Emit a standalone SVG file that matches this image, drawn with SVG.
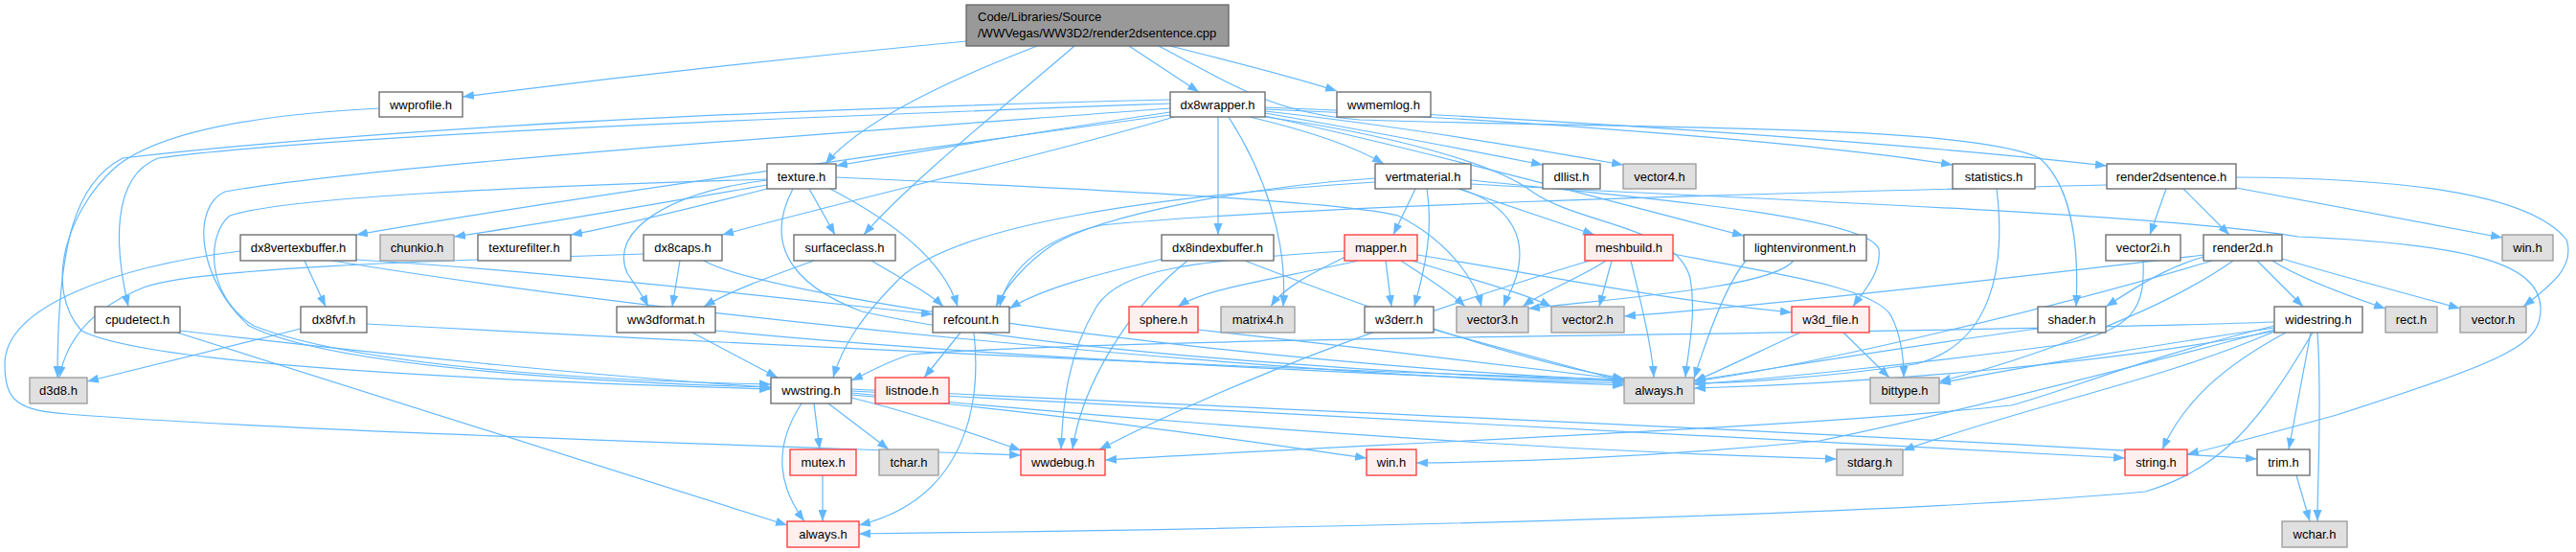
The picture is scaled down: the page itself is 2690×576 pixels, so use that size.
<svg xmlns="http://www.w3.org/2000/svg" width="2690" height="576" viewBox="0 0 2690 576">
<defs>
<marker id="a" markerWidth="12" markerHeight="9" refX="12" refY="4.5" orient="auto" markerUnits="userSpaceOnUse"><path d="M0,0 L12,4.5 L0,9 z" fill="#63b8ff"/></marker>
<style>
.e path{fill:none;stroke:#63b8ff;stroke-width:1.2;marker-end:url(#a)}
rect{stroke-width:1.3}
.w rect{fill:#fff;stroke:#666}
.g rect{fill:#e0e0e0;stroke:#999}
.r rect{fill:#fff0f0;stroke:#ff3333}
.rt rect{fill:#999;stroke:#666}
text{font-family:"Liberation Sans",Arial,sans-serif;font-size:13px;fill:#000}
.c{text-anchor:middle}
</style>
</defs>
<rect width="2690" height="576" fill="#fff"/>
<g class="e" id="edges">
<path d="M1009,43 C850,58 650,80 483,101"/>
<path d="M1083,48 C1000,80 900,125 862,171"/>
<path d="M1122,48 C1050,110 950,190 902,245"/>
<path d="M1179,48 L1252,96"/>
<path d="M1222,48 C1290,65 1350,80 1396,95"/>
<path d="M1210,48 C1290,90 1330,118 1420,125 C1700,135 2050,128 2130,165 C2170,200 2170,280 2168,320"/>
<path d="M1222,117 C1100,135 950,160 873,173"/>
<path d="M1305,122 C1360,135 1410,150 1445,171"/>
<path d="M1321,118 C1420,135 1540,158 1611,172"/>
<path d="M1321,116 C1450,130 1600,155 1695,172"/>
<path d="M1321,114 C1600,125 1900,150 2039,172"/>
<path d="M1321,112 C1600,122 2000,150 2200,173"/>
<path d="M1222,120 C1000,150 600,205 372,245"/>
<path d="M1226,122 C1100,160 900,205 754,245"/>
<path d="M1272,122 L1272,245"/>
<path d="M1283,122 C1320,180 1345,250 1340,320"/>
<path d="M1222,108 C900,120 350,140 165,165 C115,185 120,260 134,320"/>
<path d="M1222,104 C900,112 450,128 128,165 C80,190 60,250 60,394"/>
<path d="M1321,121 C1500,160 1700,215 1821,246"/>
<path d="M1321,122 C1450,140 1560,170 1600,200 C1650,235 1750,235 1765,290 C1772,330 1762,370 1760,394"/>
<path d="M1222,113 C1000,130 400,170 235,200 C200,215 205,290 260,340 C350,385 650,400 805,404"/>
<path d="M396,113 C220,122 150,150 120,175 C70,220 45,300 85,345 C160,385 600,400 805,406"/>
<path d="M801,193 C700,210 560,235 474,247"/>
<path d="M801,197 C730,215 650,235 596,245"/>
<path d="M845,197 L872,245"/>
<path d="M801,188 C700,200 635,240 655,285 C665,300 672,310 677,320"/>
<path d="M867,197 C930,230 985,270 1000,320"/>
<path d="M801,187 C550,195 300,205 240,225 C215,245 215,310 265,340 C380,385 650,398 805,401"/>
<path d="M828,197 C800,250 820,295 900,325 C1100,370 1500,392 1696,398"/>
<path d="M873,185 C1150,198 1400,210 1460,225 C1510,250 1540,290 1547,320"/>
<path d="M850,272 C800,290 760,305 735,320"/>
<path d="M910,272 C940,290 970,305 985,320"/>
<path d="M710,272 L702,320"/>
<path d="M672,265 C450,272 200,280 150,300 C100,320 70,350 62,394"/>
<path d="M735,272 C800,310 1300,380 1696,397"/>
<path d="M318,272 L340,320"/>
<path d="M372,271 C600,285 850,315 974,328"/>
<path d="M347,272 C700,330 1300,388 1696,402"/>
<path d="M251,262 C120,278 5,320 5,380 C5,420 20,428 70,432 C300,450 800,465 1066,475"/>
<path d="M1215,270 C1150,285 1090,300 1054,322"/>
<path d="M1240,272 C1180,320 1130,400 1120,469"/>
<path d="M1300,272 C1450,330 1600,380 1696,395"/>
<path d="M1478,197 L1455,245"/>
<path d="M1523,197 L1665,245"/>
<path d="M1490,197 C1497,240 1488,280 1477,320"/>
<path d="M1436,186 C1300,195 1150,225 1100,255 C1070,275 1050,300 1040,320"/>
<path d="M1436,190 C1200,205 1000,235 940,290 C900,330 880,360 870,394"/>
<path d="M1525,197 C1580,215 1595,250 1583,290 C1578,305 1573,312 1570,320"/>
<path d="M1536,188 C1700,205 1950,225 1962,260 C1965,285 1945,305 1935,320"/>
<path d="M1536,192 C1800,207 2250,222 2400,247 C2580,255 2650,275 2653,320 C2655,360 2620,375 2440,433 C2360,455 2310,468 2284,474"/>
<path d="M1418,272 C1340,290 1260,300 1230,320"/>
<path d="M1405,268 C1370,285 1340,300 1327,320"/>
<path d="M1447,272 L1453,320"/>
<path d="M1463,272 C1490,290 1515,305 1530,320"/>
<path d="M1475,272 C1530,290 1590,305 1620,320"/>
<path d="M1480,266 C1600,285 1750,315 1871,326"/>
<path d="M1404,262 C1250,272 1170,280 1145,320 C1115,370 1110,420 1108,469"/>
<path d="M1677,272 C1650,290 1610,305 1590,320"/>
<path d="M1683,272 L1670,320"/>
<path d="M1703,272 C1712,310 1725,360 1727,394"/>
<path d="M1747,265 C1850,285 1960,300 1975,330 C1985,350 1988,370 1988,394"/>
<path d="M1660,272 C1500,320 1300,390 1148,469"/>
<path d="M1873,272 C1850,300 1700,310 1596,322"/>
<path d="M1823,272 C1800,300 1780,360 1769,395"/>
<path d="M1251,344 C1400,360 1600,385 1696,396"/>
<path d="M1497,344 L1696,398"/>
<path d="M1003,347 L965,394"/>
<path d="M1017,347 C1025,420 1010,520 897,548"/>
<path d="M723,347 L812,394"/>
<path d="M747,345 C1000,370 1400,390 1696,400"/>
<path d="M188,345 C400,370 650,395 805,404"/>
<path d="M185,347 L822,548"/>
<path d="M314,343 L91,398"/>
<path d="M383,338 C800,360 1300,385 1696,396"/>
<path d="M837,421 C805,470 815,510 840,544"/>
<path d="M850,421 L856,469"/>
<path d="M865,421 C890,440 910,455 928,469"/>
<path d="M889,415 C950,430 1010,450 1066,470"/>
<path d="M889,412 C1100,430 1300,460 1427,478"/>
<path d="M889,410 C1200,440 1600,470 1918,479"/>
<path d="M889,408 C1300,430 1900,460 2219,478"/>
<path d="M889,406 C1400,430 2000,455 2357,479"/>
<path d="M859,496 L859,544"/>
<path d="M2398,496 L2412,544"/>
<path d="M2413,347 L2390,469"/>
<path d="M2420,347 C2425,420 2420,500 2420,544"/>
<path d="M2387,347 C2320,383 2280,420 2258,469"/>
<path d="M2415,347 C2360,440 2320,490 2240,513 C2000,535 1500,550 897,557"/>
<path d="M2375,346 C2250,399 2133,419 1987,470"/>
<path d="M2375,344 C2200,390 2000,440 1900,460 C1750,475 1600,482 1479,483"/>
<path d="M2375,340 C2250,370 2150,410 2100,423 C1900,445 1400,465 1154,480"/>
<path d="M2375,336 C2000,350 1200,350 950,370 C920,380 905,390 889,397"/>
<path d="M2375,342 C2250,360 2100,385 2025,400"/>
<path d="M2378,345 C2200,380 1950,400 1769,405"/>
<path d="M2128,343 C2000,360 1850,385 1769,397"/>
<path d="M2085,197 C2095,280 2080,360 2000,380 C1900,395 1800,400 1769,400"/>
<path d="M1925,347 L1973,394"/>
<path d="M1880,347 C1830,370 1800,385 1769,398"/>
<path d="M2262,197 L2245,245"/>
<path d="M2280,197 L2328,245"/>
<path d="M2335,196 L2613,248"/>
<path d="M2335,185 C2500,186 2640,200 2680,250 C2690,280 2660,300 2635,320"/>
<path d="M2200,193 C1800,203 1350,215 1150,235 C1080,250 1050,290 1044,320"/>
<path d="M2301,268 C2260,280 2230,300 2199,320"/>
<path d="M2357,272 L2405,320"/>
<path d="M2373,272 C2400,290 2450,308 2491,322"/>
<path d="M2383,270 C2450,290 2520,308 2569,322"/>
<path d="M2301,266 C2100,290 1850,318 1696,330"/>
<path d="M2310,272 C2150,320 1900,380 1769,398"/>
<path d="M2332,272 C2250,330 2100,380 2025,398"/>
<path d="M2238,272 C2240,320 2230,345 2150,360 C2000,380 1850,395 1769,401"/>
</g>
<g id="root" class="rt"><rect x="1009" y="5" width="274" height="43"/><text x="1021" y="22">Code/Libraries/Source</text><text x="1021" y="39">/WWVegas/WW3D2/render2dsentence.cpp</text></g>
<g id="wwprofile" class="w"><rect x="396" y="96" width="87" height="26"/><text class="c" x="439.5" y="114">wwprofile.h</text></g>
<g id="dx8wrapper" class="w"><rect x="1222" y="96" width="99" height="26"/><text class="c" x="1271.5" y="114">dx8wrapper.h</text></g>
<g id="wwmemlog" class="w"><rect x="1396" y="96" width="98" height="26"/><text class="c" x="1445" y="114">wwmemlog.h</text></g>
<g id="texture" class="w"><rect x="801" y="171" width="72" height="26"/><text class="c" x="837" y="189">texture.h</text></g>
<g id="vertmaterial" class="w"><rect x="1436" y="171" width="100" height="26"/><text class="c" x="1486" y="189">vertmaterial.h</text></g>
<g id="dllist" class="w"><rect x="1611" y="171" width="60" height="26"/><text class="c" x="1641" y="189">dllist.h</text></g>
<g id="vector4" class="g"><rect x="1695" y="171" width="76" height="26"/><text class="c" x="1733" y="189">vector4.h</text></g>
<g id="statistics" class="w"><rect x="2039" y="171" width="86" height="26"/><text class="c" x="2082" y="189">statistics.h</text></g>
<g id="render2dsentence" class="w"><rect x="2200" y="171" width="135" height="26"/><text class="c" x="2267.5" y="189">render2dsentence.h</text></g>
<g id="dx8vertexbuffer" class="w"><rect x="251" y="245" width="121" height="27"/><text class="c" x="311.5" y="263">dx8vertexbuffer.h</text></g>
<g id="chunkio" class="g"><rect x="397" y="245" width="77" height="27"/><text class="c" x="435.5" y="263">chunkio.h</text></g>
<g id="texturefilter" class="w"><rect x="499" y="245" width="97" height="27"/><text class="c" x="547.5" y="263">texturefilter.h</text></g>
<g id="dx8caps" class="w"><rect x="672" y="245" width="82" height="27"/><text class="c" x="713" y="263">dx8caps.h</text></g>
<g id="surfaceclass" class="w"><rect x="829" y="245" width="106" height="27"/><text class="c" x="882" y="263">surfaceclass.h</text></g>
<g id="dx8indexbuffer" class="w"><rect x="1213" y="245" width="117" height="27"/><text class="c" x="1271.5" y="263">dx8indexbuffer.h</text></g>
<g id="mapper" class="r"><rect x="1404" y="245" width="76" height="27"/><text class="c" x="1442" y="263">mapper.h</text></g>
<g id="meshbuild" class="r"><rect x="1655" y="245" width="92" height="27"/><text class="c" x="1701" y="263">meshbuild.h</text></g>
<g id="lightenvironment" class="w"><rect x="1821" y="245" width="128" height="27"/><text class="c" x="1885" y="263">lightenvironment.h</text></g>
<g id="vector2i" class="w"><rect x="2199" y="245" width="78" height="27"/><text class="c" x="2238" y="263">vector2i.h</text></g>
<g id="render2d" class="w"><rect x="2301" y="245" width="82" height="27"/><text class="c" x="2342" y="263">render2d.h</text></g>
<g id="win_g" class="g"><rect x="2613" y="245" width="53" height="27"/><text class="c" x="2639.5" y="263">win.h</text></g>
<g id="cpudetect" class="w"><rect x="99" y="320" width="89" height="27"/><text class="c" x="143.5" y="338">cpudetect.h</text></g>
<g id="dx8fvf" class="w"><rect x="314" y="320" width="69" height="27"/><text class="c" x="348.5" y="338">dx8fvf.h</text></g>
<g id="ww3dformat" class="w"><rect x="644" y="320" width="103" height="27"/><text class="c" x="695.5" y="338">ww3dformat.h</text></g>
<g id="refcount" class="w"><rect x="974" y="320" width="80" height="27"/><text class="c" x="1014" y="338">refcount.h</text></g>
<g id="sphere" class="r"><rect x="1179" y="320" width="72" height="27"/><text class="c" x="1215" y="338">sphere.h</text></g>
<g id="matrix4" class="g"><rect x="1275" y="320" width="77" height="27"/><text class="c" x="1313.5" y="338">matrix4.h</text></g>
<g id="w3derr" class="w"><rect x="1425" y="320" width="72" height="27"/><text class="c" x="1461" y="338">w3derr.h</text></g>
<g id="vector3" class="g"><rect x="1521" y="320" width="75" height="27"/><text class="c" x="1558.5" y="338">vector3.h</text></g>
<g id="vector2" class="g"><rect x="1620" y="320" width="76" height="27"/><text class="c" x="1658" y="338">vector2.h</text></g>
<g id="w3d_file" class="r"><rect x="1871" y="320" width="81" height="27"/><text class="c" x="1911.5" y="338">w3d_file.h</text></g>
<g id="shader" class="w"><rect x="2128" y="320" width="71" height="27"/><text class="c" x="2163.5" y="338">shader.h</text></g>
<g id="widestring" class="w"><rect x="2375" y="320" width="92" height="27"/><text class="c" x="2421" y="338">widestring.h</text></g>
<g id="rect" class="g"><rect x="2491" y="320" width="54" height="27"/><text class="c" x="2518" y="338">rect.h</text></g>
<g id="vector" class="g"><rect x="2569" y="320" width="69" height="27"/><text class="c" x="2603.5" y="338">vector.h</text></g>
<g id="d3d8" class="g"><rect x="31" y="394" width="60" height="27"/><text class="c" x="61" y="412">d3d8.h</text></g>
<g id="wwstring" class="w"><rect x="805" y="394" width="84" height="27"/><text class="c" x="847" y="412">wwstring.h</text></g>
<g id="listnode" class="r"><rect x="914" y="394" width="77" height="27"/><text class="c" x="952.5" y="412">listnode.h</text></g>
<g id="always_g" class="g"><rect x="1696" y="394" width="73" height="27"/><text class="c" x="1732.5" y="412">always.h</text></g>
<g id="bittype" class="g"><rect x="1953" y="394" width="72" height="27"/><text class="c" x="1989" y="412">bittype.h</text></g>
<g id="mutex" class="r"><rect x="825" y="469" width="69" height="27"/><text class="c" x="859.5" y="487">mutex.h</text></g>
<g id="tchar" class="g"><rect x="918" y="469" width="62" height="27"/><text class="c" x="949" y="487">tchar.h</text></g>
<g id="wwdebug" class="r"><rect x="1066" y="469" width="88" height="27"/><text class="c" x="1110" y="487">wwdebug.h</text></g>
<g id="win_r" class="r"><rect x="1427" y="469" width="52" height="27"/><text class="c" x="1453" y="487">win.h</text></g>
<g id="stdarg" class="g"><rect x="1918" y="469" width="69" height="27"/><text class="c" x="1952.5" y="487">stdarg.h</text></g>
<g id="string" class="r"><rect x="2219" y="469" width="65" height="27"/><text class="c" x="2251.5" y="487">string.h</text></g>
<g id="trim" class="w"><rect x="2357" y="469" width="55" height="27"/><text class="c" x="2384.5" y="487">trim.h</text></g>
<g id="always_r" class="r"><rect x="822" y="544" width="75" height="27"/><text class="c" x="859.5" y="562">always.h</text></g>
<g id="wchar" class="g"><rect x="2383" y="544" width="68" height="27"/><text class="c" x="2417" y="562">wchar.h</text></g>
</svg>
